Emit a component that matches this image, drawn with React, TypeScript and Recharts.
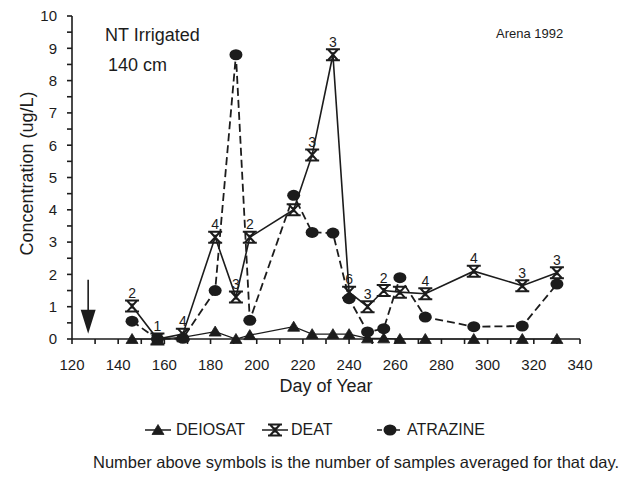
import React from 'react';
import { LineChart, Line, XAxis, YAxis, Legend, LabelList, ReferenceDot } from 'recharts';

const days = [146, 157, 168, 182, 191, 197, 216, 224, 233, 240, 248, 255, 262, 273, 294, 315, 330];
const deiosat = [0, 0, 0.05, 0.23, 0, 0.12, 0.38, 0.15, 0.15, 0.15, 0.02, 0.02, 0, 0, 0, 0, 0];
const deat = [1.02, 0, 0.15, 3.15, 1.3, 3.15, 4.0, 5.7, 8.8, 1.45, 1.0, 1.5, 1.45, 1.4, 2.1, 1.65, 2.05];
const atrazine = [0.55, 0, 0.02, 1.5, 8.8, 0.58, 4.45, 3.3, 3.28, 1.25, 0.22, 0.32, 1.9, 0.68, 0.38, 0.4, 1.7];
const sampleCounts: (string | null)[] = ['2', '1', '4', '4', '3', '2', null, '3', '3', '6', '3', '2', null, '4', '4', '3', '3'];
const xTicks = [120, 130, 140, 150, 160, 170, 180, 190, 200, 210, 220, 230, 240, 250, 260, 270, 280, 290, 300, 310, 320, 330, 340];
const yTicks = [0, 0.5, 1, 1.5, 2, 2.5, 3, 3.5, 4, 4.5, 5, 5.5, 6, 6.5, 7, 7.5, 8, 8.5, 9, 9.5, 10];
const seriesNames = ['DEIOSAT', 'DEAT', 'ATRAZINE'];
const applicationDay = 127;
const arrowAt = 1.0;

const data = days.map((d, i) => ({
  day: d,
  deiosat: deiosat[i],
  deat: deat[i],
  atrazine: atrazine[i],
  n: sampleCounts[i],
}));

const FONT = '"Liberation Sans", Arial, Helvetica, sans-serif';
const INK = '#1c1c1c';

const Triangle = ({ cx, cy }: any) => (
  <path d={`M${cx - 6},${cy + 4.5} L${cx + 6},${cy + 4.5} L${cx},${cy - 5.5} Z`} fill={INK} stroke={INK} strokeWidth={0.8} />
);
const Hourglass = ({ cx, cy }: any) => (
  <g>
    <path
      d={`M${cx - 7},${cy - 5.5} L${cx + 7},${cy - 5.5} M${cx - 7},${cy + 5.5} L${cx + 7},${cy + 5.5} M${cx - 5},${cy - 5.5} L${cx + 5},${cy + 5.5} M${cx + 5},${cy - 5.5} L${cx - 5},${cy + 5.5}`}
      fill="none"
      stroke={INK}
      strokeWidth={2}
    />
    <path d={`M${cx - 3},${cy - 2.5} L${cx + 3},${cy - 2.5} L${cx},${cy} Z M${cx - 3},${cy + 2.5} L${cx + 3},${cy + 2.5} L${cx},${cy} Z`} fill={INK} />
  </g>
);
const Blob = ({ cx, cy }: any) => <ellipse cx={cx} cy={cy} rx={6.5} ry={5.5} fill={INK} />;

const renderTri = (p: any) => <Triangle key={`t${p.index}`} cx={p.cx} cy={p.cy} />;
const renderHour = (p: any) => <Hourglass key={`h${p.index}`} cx={p.cx} cy={p.cy} />;
const renderBlob = (p: any) => <Blob key={`b${p.index}`} cx={p.cx} cy={p.cy} />;

const CountLabel = (p: any) => {
  if (p.value == null || p.value === '') return null;
  return (
    <text x={p.x + p.width / 2} y={p.y - 8} textAnchor="middle" fontSize={14} fill={INK} fontFamily={FONT}>
      {p.value}
    </text>
  );
};

const Arrow = (p: any) => {
  const { cx, cy } = p;
  return (
    <g>
      <line x1={cx} y1={cy - 27} x2={cx} y2={cy + 4} stroke={INK} strokeWidth={1.6} />
      <path d={`M${cx - 7.5},${cy + 3} L${cx + 7.5},${cy + 3} L${cx},${cy + 27} Z`} fill={INK} />
    </g>
  );
};

const legendPos = [
  { icon: 145, text: 176 },
  { icon: 262, text: 291 },
  { icon: 377, text: 407 },
];

const LegendIcon = ({ i }: { i: number }) => (
  <svg width={26} height={14} style={{ display: 'block' }}>
    <line x1={0} y1={7} x2={26} y2={7} stroke={INK} strokeWidth={1.5} strokeDasharray={i === 2 ? '5 4' : undefined} />
    {i === 0 && <Triangle cx={13} cy={7} />}
    {i === 1 && <Hourglass cx={13} cy={7} />}
    {i === 2 && <Blob cx={13} cy={7} />}
  </svg>
);

const LegendContent = () => (
  <div style={{ position: 'relative', width: 634, height: 56, fontFamily: FONT, color: INK }}>
    {seriesNames.map((name, i) => (
      <React.Fragment key={name}>
        <div style={{ position: 'absolute', left: legendPos[i].icon, top: 3 }}>
          <LegendIcon i={i} />
        </div>
        <div style={{ position: 'absolute', left: legendPos[i].text, top: 0, fontSize: 16, lineHeight: '20px' }}>{name}</div>
      </React.Fragment>
    ))}
    <div style={{ position: 'absolute', left: 93, top: 32, fontSize: 16.5, lineHeight: '20px', whiteSpace: 'nowrap' }}>
      Number above symbols is the number of samples averaged for that day.
    </div>
  </div>
);

const YLabel = (props: any) => {
  const vb = props.viewBox || {};
  const cy = vb.y + vb.height / 2 - 4;
  const x = 27;
  return (
    <text x={x} y={cy} transform={`rotate(-90, ${x}, ${cy})`} textAnchor="middle" dominantBaseline="central" fontSize={18} fill={INK} fontFamily={FONT}>
      Concentration (ug/L)
    </text>
  );
};

const xFmt = (v: number) => (v % 20 === 0 ? String(v) : '');
const yFmt = (v: number) => (Number.isInteger(v) ? String(v) : '');

export default function App() {
  return (
    <div style={{ position: 'absolute', left: 0, top: 0, width: 634, height: 479, background: '#fff', fontFamily: FONT }}>
      <LineChart width={634} height={479} data={data} margin={{ top: 16, right: 54, left: 0, bottom: 24 }}>
        <XAxis
          xAxisId="b"
          dataKey="day"
          type="number"
          domain={[120, 340]}
          ticks={xTicks}
          interval={0}
          tickFormatter={xFmt}
          height={60}
          tickSize={5}
          tickMargin={15}
          stroke={INK}
          strokeWidth={1.6}
          tick={{ fill: INK, fontSize: 15, fontFamily: FONT }}
          label={{ value: 'Day of Year', position: 'insideBottom', offset: 7, fill: INK, fontSize: 18, fontFamily: FONT }}
        />
        <XAxis xAxisId="t" orientation="top" type="number" domain={[120, 340]} height={0} tick={false} tickLine={false} stroke={INK} strokeWidth={1.6} />
        <YAxis
          yAxisId="l"
          type="number"
          domain={[0, 10]}
          ticks={yTicks}
          interval={0}
          tickFormatter={yFmt}
          width={72}
          tickSize={5}
          tickMargin={10}
          stroke={INK}
          strokeWidth={1.6}
          tick={{ fill: INK, fontSize: 15, fontFamily: FONT }}
          label={<YLabel />}
        />
        <YAxis yAxisId="r" orientation="right" type="number" domain={[0, 10]} width={0} tick={false} tickLine={false} stroke={INK} strokeWidth={1.4} />
        <Legend verticalAlign="bottom" content={<LegendContent />} wrapperStyle={{ top: 420, left: 0, bottom: 'auto', width: 634, height: 56 }} />
        <Line
          xAxisId="b"
          yAxisId="l"
          name="DEIOSAT"
          dataKey="deiosat"
          stroke={INK}
          strokeWidth={1.2}
          dot={renderTri}
          isAnimationActive={false}
        />
        <Line
          xAxisId="b"
          yAxisId="l"
          name="ATRAZINE"
          dataKey="atrazine"
          stroke={INK}
          strokeWidth={1.8}
          strokeDasharray="8 4"
          dot={renderBlob}
          isAnimationActive={false}
        />
        <Line
          xAxisId="b"
          yAxisId="l"
          name="DEAT"
          dataKey="deat"
          stroke={INK}
          strokeWidth={1.6}
          dot={renderHour}
          isAnimationActive={false}
        >
          <LabelList dataKey="n" content={<CountLabel />} />
        </Line>
        <ReferenceDot xAxisId="b" yAxisId="l" x={applicationDay} y={arrowAt} shape={<Arrow />} ifOverflow="visible" />
        <text x={105} y={41} fontSize={18} fill={INK} fontFamily={FONT}>NT Irrigated</text>
        <text x={108} y={71} fontSize={18} fill={INK} fontFamily={FONT}>140 cm</text>
        <text x={496} y={38} fontSize={13} fill={INK} fontFamily={FONT}>Arena 1992</text>
      </LineChart>
    </div>
  );
}
